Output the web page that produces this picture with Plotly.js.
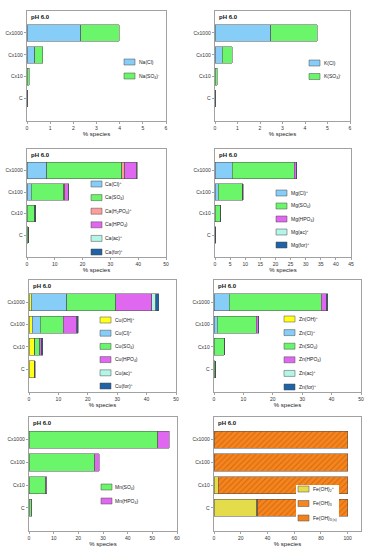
<!DOCTYPE html>
<html><head><meta charset="utf-8">
<script src="https://cdn.plot.ly/plotly-3.0.1.min.js"></script>
<style>html,body{margin:0;padding:0;background:#fff}#chart{width:370px;height:550px}</style>
</head><body><div id="chart"></div>
<script>
// ---------- data ----------
const categories = ["C", "Cx10", "Cx100", "Cx1000"];

// Na
const naNames = ["Na(Cl)", "Na(SO<sub>4</sub>)<sup>-</sup>"];
const naCl  = [0.003, 0.02, 0.33, 2.33];
const naSO4 = [0.003, 0.08, 0.34, 1.66];
// K
const kNames = ["K(Cl)", "K(SO<sub>4</sub>)<sup>-</sup>"];
const kCl  = [0.01, 0.02, 0.33, 2.47];
const kSO4 = [0.01, 0.07, 0.43, 2.08];
// Ca
const caNames = ["Ca(Cl)<sup>+</sup>", "Ca(SO<sub>4</sub>)", "Ca(H<sub>2</sub>PO<sub>4</sub>)<sup>+</sup>", "Ca(HPO<sub>4</sub>)", "Ca(ac)<sup>+</sup>", "Ca(for)<sup>+</sup>"];
const caCl    = [0.05, 0.15, 1.6, 7.1];
const caSO4   = [0.35, 2.6, 11.7, 27.0];
const caH2PO4 = [0.0, 0.02, 0.3, 1.0];
const caHPO4  = [0.02, 0.15, 1.3, 4.2];
const caAc    = [0.0, 0.02, 0.05, 0.1];
const caFor   = [0.0, 0.2, 0.1, 0.2];
// Mg
const mgNames = ["Mg(Cl)<sup>+</sup>", "Mg(SO<sub>4</sub>)", "Mg(HPO<sub>4</sub>)", "Mg(ac)<sup>+</sup>", "Mg(for)<sup>+</sup>"];
const mgCl    = [0.02, 0.1, 1.1, 5.7];
const mgSO4   = [0.2, 1.7, 7.9, 20.5];
const mgHPO4  = [0.01, 0.05, 0.1, 0.6];
const mgAc    = [0.0, 0.0, 0.05, 0.1];
const mgFor   = [0.0, 0.0, 0.15, 0.15];
// Cu
const cuNames = ["Cu(OH)<sup>+</sup>", "Cu(Cl)<sup>+</sup>", "Cu(SO<sub>4</sub>)", "Cu(HPO<sub>4</sub>)", "Cu(ac)<sup>+</sup>", "Cu(for)<sup>+</sup>"];
const cuOH    = [1.9, 1.7, 1.1, 0.8];
const cuCl    = [0.01, 0.3, 2.7, 12.0];
const cuSO4   = [0.05, 1.7, 7.8, 16.7];
const cuHPO4  = [0.02, 0.6, 4.6, 12.3];
const cuAc    = [0.0, 0.05, 0.2, 1.3];
const cuFor   = [0.2, 0.4, 0.3, 1.1];
// Zn
const znNames = ["Zn(OH)<sup>+</sup>", "Zn(Cl)<sup>+</sup>", "Zn(SO<sub>4</sub>)", "Zn(HPO<sub>4</sub>)", "Zn(ac)<sup>+</sup>", "Zn(for)<sup>+</sup>"];
const znOH    = [0.0, 0.0, 0.02, 0.02];
const znCl    = [0.01, 0.1, 1.0, 5.1];
const znSO4   = [0.45, 3.3, 13.4, 31.4];
const znHPO4  = [0.0, 0.05, 0.6, 1.8];
const znAc    = [0.0, 0.0, 0.02, 0.1];
const znFor   = [0.0, 0.05, 0.1, 0.35];
// Mn
const mnNames = ["Mn(SO<sub>4</sub>)", "Mn(HPO<sub>4</sub>)"];
const mnSO4   = [1.0, 6.7, 26.6, 52.1];
const mnHPO4  = [0.05, 0.5, 1.9, 4.8];
// Fe
const feNames = ["Fe(OH)<sub>2</sub><sup>+</sup>", "Fe(OH)<sub>3</sub>", "Fe(OH)<sub>3 (s)</sub>"];
const feOH2   = [32.0, 3.0, 0.3, 0.1];
const feOH3   = [0.8, 0.3, 0.05, 0.02];
const feOH3s  = [67.2, 96.7, 99.65, 99.88];

const xTitle = "% species";
const panelTitle = "pH 6.0";

// ---------- styles ----------
const C = {
  OH: "#ffff1a", Cl: "#86cdf7", SO4: "#6af56a", H2PO4: "#ff9d9d", HPO4: "#e068f0",
  ac: "#b3f5e6", for: "#1f62a5", feOH2: "#e5dc4c", fe: "#f7851e"
};
const W = 370, H = 550;
const px = v => v / W;
const py = v => 1 - v / H;

const panels = [
  {names: naNames, vals: [naCl, naSO4], cols: [C.Cl, C.SO4], fx: [27, 166], fy: [11, 121], range: [0, 6], dtick: 1, leg: {x: 124, y: 62, dy: 14}},
  {names: kNames, vals: [kCl, kSO4], cols: [C.Cl, C.SO4], fx: [215, 350], fy: [11, 121], range: [0, 6], dtick: 1, leg: {x: 309, y: 63, dy: 13.5}},
  {names: caNames, vals: [caCl, caSO4, caH2PO4, caHPO4, caAc, caFor], cols: [C.Cl, C.SO4, C.H2PO4, C.HPO4, C.ac, C.for], fx: [27, 166], fy: [149, 257], range: [0, 50], dtick: 10, leg: {x: 91, y: 184, dy: 13.6}},
  {names: mgNames, vals: [mgCl, mgSO4, mgHPO4, mgAc, mgFor], cols: [C.Cl, C.SO4, C.HPO4, C.ac, C.for], fx: [215, 351], fy: [149, 257], range: [0, 45], dtick: 5, leg: {x: 276, y: 193, dy: 13}},
  {names: cuNames, vals: [cuOH, cuCl, cuSO4, cuHPO4, cuAc, cuFor], cols: [C.OH, C.Cl, C.SO4, C.HPO4, C.ac, C.for], fx: [29, 176], fy: [280, 392], range: [0, 50], dtick: 10, leg: {x: 100, y: 320, dy: 13.2}},
  {names: znNames, vals: [znOH, znCl, znSO4, znHPO4, znAc, znFor], cols: [C.OH, C.Cl, C.SO4, C.HPO4, C.ac, C.for], fx: [214, 361], fy: [280, 392], range: [0, 50], dtick: 10, leg: {x: 284, y: 319, dy: 13.6}},
  {names: mnNames, vals: [mnSO4, mnHPO4], cols: [C.SO4, C.HPO4], fx: [29, 177], fy: [417, 531], range: [0, 60], dtick: 10, leg: {x: 101, y: 487, dy: 14}},
  {names: feNames, vals: [feOH2, feOH3, feOH3s], cols: [C.feOH2, C.fe, C.fe], hatch: [false, false, true], fx: [214, 361], fy: [417, 531], range: [0, 110], dtick: 20, leg: {x: 298, y: 489, dy: 14.5, box: [296, 485, 339, 524]}}
];

const FAM = "Liberation Sans, Arial, sans-serif";
const axisFont = {family: FAM, size: 5, color: "#333"};
const legFont = {family: FAM, size: 5, color: "#222"};
const traces = [], shapes = [], annotations = [];
const layout = {
  width: W, height: H, margin: {l: 0, r: 0, t: 0, b: 0},
  paper_bgcolor: "#fff", plot_bgcolor: "#fff", barmode: "stack", showlegend: false,
  font: {family: FAM, color: "#333", size: 5}
};
const hatchPattern = {shape: "/", fgcolor: "#d06a10", bgcolor: C.fe, size: 4, solidity: 0.25};

panels.forEach((p, i) => {
  const n = i + 1;
  const xa = n === 1 ? "x" : "x" + n, ya = n === 1 ? "y" : "y" + n;
  const xk = n === 1 ? "xaxis" : "xaxis" + n, yk = n === 1 ? "yaxis" : "yaxis" + n;
  layout[xk] = {
    domain: [px(p.fx[0]), px(p.fx[1])], anchor: ya, range: p.range, dtick: p.dtick, tick0: 0,
    ticks: "outside", ticklen: 2.5, tickwidth: 0.6, tickcolor: "#666",
    showline: true, linecolor: "#8a8a8a", linewidth: 0.8, mirror: true,
    showgrid: false, zeroline: false, tickfont: axisFont,
    title: {text: xTitle, font: {family: FAM, size: 6, color: "#222"}, standoff: 1}
  };
  layout[yk] = {
    domain: [py(p.fy[1]), py(p.fy[0])], anchor: xa, type: "category",
    categoryorder: "array", categoryarray: categories, range: [-1.02, 4.0],
    ticks: "outside", ticklen: 2.5, tickwidth: 0.6, tickcolor: "#666",
    showline: true, linecolor: "#8a8a8a", linewidth: 0.8, mirror: true,
    showgrid: false, zeroline: false, tickfont: axisFont
  };
  p.vals.forEach((v, j) => {
    const hatched = p.hatch && p.hatch[j];
    traces.push({
      type: "bar", orientation: "h", x: v, y: categories, xaxis: xa, yaxis: ya,
      name: p.names[j], width: 0.76,
      marker: Object.assign({color: p.cols[j], line: {color: "#4a4a4a", width: 0.5}}, hatched ? {pattern: hatchPattern} : {})
    });
  });
  annotations.push({
    text: "<b>" + panelTitle + "</b>", xref: "paper", yref: "paper",
    x: px(p.fx[0] + 1.5), y: py(p.fy[0] + 5.5), xanchor: "left", yanchor: "middle",
    showarrow: false, font: {family: FAM, size: 6, color: "#111"}
  });
  // legend
  const L = p.leg;
  if (L.box) {
    shapes.push({type: "rect", xref: "paper", yref: "paper", x0: px(L.box[0]), x1: px(L.box[2]), y0: py(L.box[3]), y1: py(L.box[1]), fillcolor: "#fff", line: {width: 0}});
  }
  p.names.forEach((nm, j) => {
    const cy = L.y + j * L.dy;
    const sw = 11, sh = 6;
    shapes.push({type: "rect", xref: "paper", yref: "paper", x0: px(L.x), x1: px(L.x + sw), y0: py(cy + sh / 2), y1: py(cy - sh / 2),
      fillcolor: p.cols[j], line: {color: "#4a4a4a", width: 0.5}});
    if (p.hatch && p.hatch[j]) {
      let d = "";
      for (let a = -sh; a < sw; a += 3) {
        let x0 = a, y0 = 0, x1 = a + sh, y1 = sh;
        if (x0 < 0) { y0 = -x0; x0 = 0; }
        if (x1 > sw) { y1 = sh - (x1 - sw); x1 = sw; }
        d += "M" + px(L.x + x0) + "," + py(cy + sh / 2 - y0) + "L" + px(L.x + x1) + "," + py(cy + sh / 2 - y1);
      }
      shapes.push({type: "path", xref: "paper", yref: "paper", path: d, line: {color: "#d06a10", width: 0.5}});
    }
    annotations.push({text: nm, xref: "paper", yref: "paper", x: px(L.x + sw + 1.5), y: py(cy), xanchor: "left", yanchor: "middle",
      showarrow: false, font: legFont});
  });
});
layout.shapes = shapes;
layout.annotations = annotations;
Plotly.newPlot("chart", traces, layout, {displayModeBar: false, staticPlot: true});
</script>
</body></html>
